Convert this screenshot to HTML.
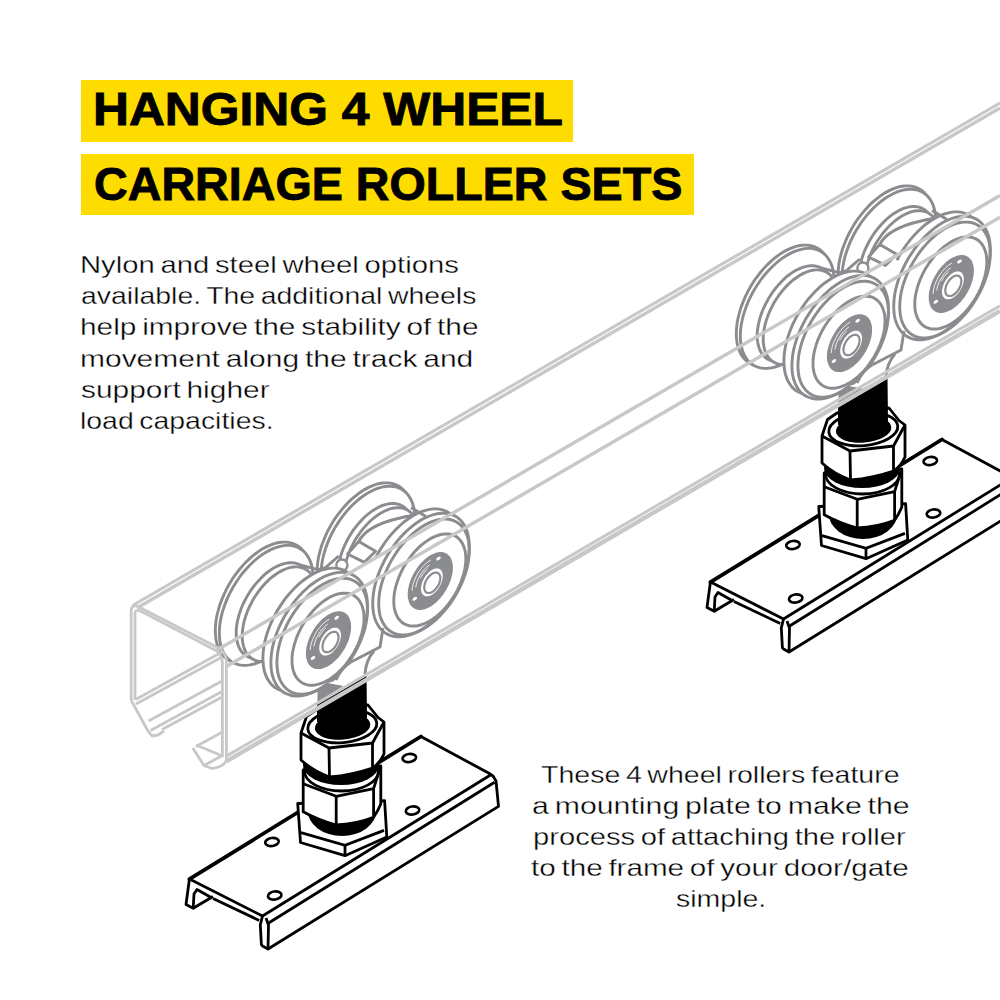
<!DOCTYPE html>
<html><head><meta charset="utf-8">
<style>
html,body{margin:0;padding:0;background:#fff;}
body{width:1000px;height:1000px;position:relative;overflow:hidden;font-family:"Liberation Sans",sans-serif;}
.box{position:absolute;background:#FFDC00;}
.h{position:absolute;font-weight:bold;font-size:46px;line-height:46px;color:#000;-webkit-text-stroke:0.9px #000;white-space:nowrap;transform-origin:0 0;}
.t{position:absolute;font-size:24px;line-height:24px;color:#000;word-spacing:-2px;-webkit-text-stroke:0.35px #fff;white-space:nowrap;transform-origin:0 0;}
.c{position:absolute;font-size:24px;line-height:24px;color:#000;-webkit-text-stroke:0.35px #fff;white-space:nowrap;text-align:center;width:400px;transform-origin:200px 0;}
svg{position:absolute;left:0;top:0;}
</style></head><body>
<svg width="1000" height="1000" viewBox="0 0 1000 1000">
<defs><g id="asm"><polygon points="310.1,574.8 309.9,579.6 309.4,584.6 308.5,589.7 307.2,594.9 305.7,600.2 303.7,605.5 301.5,610.8 299,616 296.2,621.1 293.2,626.1 289.9,630.9 286.4,635.4 282.7,639.8 278.9,643.8 275,647.5 270.9,650.9 266.8,654 262.7,656.6 258.6,658.8 254.5,660.6 250.4,662 246.5,662.9 242.7,663.3 239,663.3 235.5,662.8 232.2,661.9 229.2,660.5 226.4,658.7 223.9,656.4 221.7,653.8 219.7,650.7 218.2,647.3 216.9,643.6 216,639.5 215.5,635.2 215.3,630.6 215.5,625.8 216,620.8 216.9,615.7 218.2,610.5 219.7,605.2 221.7,599.9 223.9,594.6 226.4,589.4 229.2,584.3 232.2,579.3 235.5,574.5 239,570 242.7,565.6 246.5,561.6 250.4,557.9 254.5,554.5 258.6,551.4 262.7,548.8 266.8,546.6 270.9,544.8 275,543.4 278.9,542.5 282.7,542.1 286.4,542.1 289.9,542.6 293.2,543.5 296.2,544.9 299,546.7 301.5,549 303.7,551.6 305.7,554.7 307.2,558.1 308.5,561.8 309.4,565.9 309.9,570.2" fill="#fff" stroke="#8b8c8f" stroke-width="2.9" /><polygon points="313.1,577.8 312.9,582.6 312.4,587.5 311.5,592.6 310.3,597.7 308.7,602.9 306.8,608.2 304.6,613.4 302.1,618.6 299.4,623.6 296.3,628.5 293.1,633.3 289.6,637.8 286,642.1 282.2,646.1 278.3,649.8 274.3,653.1 270.3,656.1 266.2,658.7 262.1,660.9 258.1,662.7 254.1,664 250.2,664.9 246.4,665.4 242.8,665.4 239.3,664.9 236.1,664 233,662.6 230.3,660.8 227.8,658.6 225.6,655.9 223.7,652.9 222.1,649.6 220.9,645.8 220,641.8 219.5,637.5 219.3,633 219.5,628.2 220,623.3 220.9,618.2 222.1,613.1 223.7,607.9 225.6,602.6 227.8,597.4 230.3,592.2 233,587.2 236.1,582.3 239.3,577.5 242.7,573 246.4,568.7 250.2,564.7 254.1,561 258.1,557.7 262.1,554.7 266.2,552.1 270.3,549.9 274.3,548.1 278.3,546.8 282.2,545.9 286,545.4 289.6,545.4 293.1,545.9 296.3,546.8 299.4,548.2 302.1,550 304.6,552.2 306.8,554.9 308.7,557.9 310.3,561.2 311.5,565 312.4,569 312.9,573.3" fill="#fff" stroke="#8b8c8f" stroke-width="2.9" /><polygon points="311.2,588.7 311.1,592.5 310.6,596.4 309.9,600.4 308.9,604.6 307.7,608.7 306.2,612.9 304.4,617.1 302.4,621.2 300.2,625.3 297.8,629.2 295.2,633 292.4,636.6 289.5,640 286.5,643.2 283.4,646.2 280.2,648.9 277,651.3 273.7,653.3 270.4,655.1 267.2,656.5 264,657.6 260.9,658.3 257.9,658.7 254.9,658.7 252.2,658.3 249.6,657.5 247.2,656.4 245,655 243,653.2 241.2,651.1 239.7,648.7 238.5,646 237.5,643 236.8,639.8 236.3,636.4 236.2,632.8 236.3,628.9 236.8,625 237.5,621 238.5,616.8 239.7,612.7 241.2,608.5 243,604.3 245,600.2 247.2,596.1 249.6,592.2 252.2,588.4 254.9,584.8 257.9,581.4 260.9,578.2 264,575.2 267.2,572.5 270.4,570.1 273.7,568.1 277,566.3 280.2,564.9 283.4,563.8 286.5,563.1 289.5,562.7 292.4,562.7 295.2,563.1 297.8,563.9 300.2,565 302.4,566.4 304.4,568.2 306.2,570.3 307.7,572.7 308.9,575.4 309.9,578.4 310.6,581.6 311.1,585" fill="#fff" stroke="#8b8c8f" stroke-width="2.9" /><polygon points="316.2,592.4 316.1,596.2 315.6,600.1 314.9,604.1 314,608.1 312.7,612.3 311.2,616.4 309.5,620.5 307.5,624.6 305.4,628.6 303,632.4 300.4,636.2 297.7,639.8 294.8,643.1 291.9,646.3 288.8,649.2 285.6,651.9 282.4,654.2 279.2,656.3 276,658 272.8,659.4 269.6,660.5 266.5,661.2 263.6,661.5 260.7,661.5 258,661.1 255.4,660.4 253,659.3 250.9,657.9 248.9,656.2 247.2,654.1 245.7,651.7 244.4,649 243.5,646.1 242.8,642.9 242.3,639.5 242.2,636 242.3,632.2 242.8,628.3 243.5,624.3 244.4,620.3 245.7,616.1 247.2,612 248.9,607.9 250.9,603.8 253,599.8 255.4,596 258,592.2 260.7,588.6 263.6,585.3 266.5,582.1 269.6,579.2 272.8,576.5 276,574.2 279.2,572.1 282.4,570.4 285.6,569 288.8,567.9 291.9,567.2 294.8,566.9 297.7,566.9 300.4,567.3 303,568 305.4,569.1 307.5,570.5 309.5,572.2 311.2,574.3 312.7,576.7 314,579.4 314.9,582.3 315.6,585.5 316.1,588.9" fill="#fff" stroke="#8b8c8f" stroke-width="2.9" /><polygon points="411.9,515.6 411.7,520.4 411.2,525.4 410.3,530.5 409,535.7 407.5,541 405.5,546.3 403.3,551.6 400.8,556.8 398,561.9 395,566.9 391.7,571.7 388.2,576.2 384.5,580.6 380.7,584.6 376.8,588.3 372.7,591.7 368.6,594.8 364.5,597.4 360.4,599.6 356.3,601.4 352.2,602.8 348.3,603.7 344.5,604.1 340.8,604.1 337.3,603.6 334,602.7 331,601.3 328.2,599.5 325.7,597.2 323.5,594.6 321.5,591.5 320,588.1 318.7,584.4 317.8,580.3 317.3,576 317.1,571.4 317.3,566.6 317.8,561.6 318.7,556.5 320,551.3 321.5,546 323.5,540.7 325.7,535.4 328.2,530.2 331,525.1 334,520.1 337.3,515.3 340.8,510.8 344.5,506.4 348.3,502.4 352.2,498.7 356.3,495.3 360.4,492.2 364.5,489.6 368.6,487.4 372.7,485.6 376.8,484.2 380.7,483.3 384.5,482.9 388.2,482.9 391.7,483.4 395,484.3 398,485.7 400.8,487.5 403.3,489.8 405.5,492.4 407.5,495.5 409,498.9 410.3,502.6 411.2,506.7 411.7,511" fill="#fff" stroke="#8b8c8f" stroke-width="2.9" /><polygon points="414.9,518.6 414.7,523.4 414.2,528.3 413.3,533.4 412.1,538.5 410.5,543.7 408.6,549 406.4,554.2 403.9,559.4 401.2,564.4 398.1,569.3 394.9,574.1 391.4,578.6 387.8,582.9 384,586.9 380.1,590.6 376.1,593.9 372.1,596.9 368,599.5 363.9,601.7 359.9,603.5 355.9,604.8 352,605.7 348.2,606.2 344.6,606.2 341.1,605.7 337.9,604.8 334.8,603.4 332.1,601.6 329.6,599.4 327.4,596.7 325.5,593.7 323.9,590.4 322.7,586.6 321.8,582.6 321.3,578.3 321.1,573.8 321.3,569 321.8,564.1 322.7,559 323.9,553.9 325.5,548.7 327.4,543.4 329.6,538.2 332.1,533 334.8,528 337.9,523.1 341.1,518.3 344.5,513.8 348.2,509.5 352,505.5 355.9,501.8 359.9,498.5 363.9,495.5 368,492.9 372.1,490.7 376.1,488.9 380.1,487.6 384,486.7 387.8,486.2 391.4,486.2 394.9,486.7 398.1,487.6 401.2,489 403.9,490.8 406.4,493 408.6,495.7 410.5,498.7 412.1,502 413.3,505.8 414.2,509.8 414.7,514.1" fill="#fff" stroke="#8b8c8f" stroke-width="2.9" /><polygon points="413,529.5 412.9,533.3 412.4,537.2 411.7,541.2 410.7,545.4 409.5,549.5 408,553.7 406.2,557.9 404.2,562 402,566.1 399.6,570 397,573.8 394.2,577.4 391.3,580.8 388.3,584 385.2,587 382,589.7 378.8,592.1 375.5,594.1 372.2,595.9 369,597.3 365.8,598.4 362.7,599.1 359.7,599.5 356.8,599.5 354,599.1 351.4,598.3 349,597.2 346.8,595.8 344.8,594 343,591.9 341.5,589.5 340.3,586.8 339.3,583.8 338.6,580.6 338.1,577.2 338,573.5 338.1,569.7 338.6,565.8 339.3,561.8 340.3,557.6 341.5,553.5 343,549.3 344.8,545.1 346.8,541 349,536.9 351.4,533 354,529.2 356.8,525.6 359.7,522.2 362.7,519 365.8,516 369,513.3 372.2,510.9 375.5,508.9 378.8,507.1 382,505.7 385.2,504.6 388.3,503.9 391.3,503.5 394.2,503.5 397,503.9 399.6,504.7 402,505.8 404.2,507.2 406.2,509 408,511.1 409.5,513.5 410.7,516.2 411.7,519.2 412.4,522.4 412.9,525.8" fill="#fff" stroke="#8b8c8f" stroke-width="2.9" /><polygon points="418,533.2 417.9,537 417.4,540.9 416.7,544.9 415.8,548.9 414.5,553.1 413,557.2 411.3,561.3 409.3,565.4 407.2,569.4 404.8,573.2 402.2,577 399.5,580.6 396.6,583.9 393.7,587.1 390.6,590 387.4,592.7 384.2,595 381,597.1 377.8,598.8 374.6,600.2 371.4,601.3 368.3,602 365.4,602.3 362.5,602.3 359.8,601.9 357.2,601.2 354.8,600.1 352.7,598.7 350.7,597 349,594.9 347.5,592.5 346.2,589.8 345.3,586.9 344.6,583.7 344.1,580.3 344,576.8 344.1,573 344.6,569.1 345.3,565.1 346.2,561.1 347.5,556.9 349,552.8 350.7,548.7 352.7,544.6 354.8,540.6 357.2,536.8 359.8,533 362.5,529.4 365.4,526.1 368.3,522.9 371.4,520 374.6,517.3 377.8,515 381,512.9 384.2,511.2 387.4,509.8 390.6,508.7 393.7,508 396.6,507.7 399.5,507.7 402.2,508.1 404.8,508.8 407.2,509.9 409.3,511.3 411.3,513 413,515.1 414.5,517.5 415.8,520.2 416.7,523.1 417.4,526.3 417.9,529.7" fill="#fff" stroke="#8b8c8f" stroke-width="2.9" /><path d="M358.8,541.4 C364,531 378,523 400,518 S420,515.5 432,516" fill="none" stroke="#8b8c8f" stroke-width="2.9"/><polygon points="358.8,541.4 375.6,551.2 364.4,562.4 347.6,554" fill="#fff" stroke="#8b8c8f" stroke-width="2.9" stroke-linejoin="round"/><polyline points="338.7,556 325.2,567.8 318,569.6 300,565" fill="none" stroke="#8b8c8f" stroke-width="2.9" stroke-linejoin="round"/><polyline points="318,569.6 327,575" fill="none" stroke="#8b8c8f" stroke-width="2.9" /><polyline points="325.2,567.8 335,574" fill="none" stroke="#8b8c8f" stroke-width="2.9" /><circle cx="341.9" cy="565.1" r="5.6" fill="#fff" stroke="#8b8c8f" stroke-width="2.3"/><polygon points="461.3,542.3 461.1,547.2 460.6,552.3 459.7,557.5 458.4,562.8 456.8,568.2 454.8,573.6 452.6,578.9 450,584.2 447.2,589.5 444,594.5 440.7,599.4 437.1,604.1 433.4,608.5 429.5,612.6 425.5,616.4 421.4,619.9 417.2,622.9 413,625.6 408.8,627.9 404.6,629.7 400.5,631.1 396.5,632 392.6,632.5 388.9,632.5 385.3,632 382,631 378.8,629.6 376,627.8 373.4,625.5 371.2,622.8 369.2,619.6 367.6,616.2 366.3,612.3 365.4,608.2 364.9,603.8 364.7,599.1 364.9,594.2 365.4,589.1 366.3,583.9 367.6,578.6 369.2,573.2 371.2,567.8 373.4,562.5 376,557.2 378.8,551.9 382,546.9 385.3,542 388.8,537.3 392.6,532.9 396.5,528.8 400.5,525 404.6,521.5 408.8,518.5 413,515.8 417.2,513.5 421.4,511.7 425.5,510.3 429.5,509.4 433.4,508.9 437.1,508.9 440.7,509.4 444,510.4 447.2,511.8 450,513.6 452.6,515.9 454.8,518.6 456.8,521.8 458.4,525.2 459.7,529.1 460.6,533.2 461.1,537.6" fill="#fff" stroke="none" stroke-width="0" /><polyline points="376,557.2 378.8,551.9 382,546.9 385.3,542 388.8,537.3 392.6,532.9 396.5,528.8 400.5,525 404.6,521.5 408.8,518.5 413,515.8 417.2,513.5 421.4,511.7 425.5,510.3 429.5,509.4 433.4,508.9 437.1,508.9 440.7,509.4 444,510.4 447.2,511.8 450,513.6 452.6,515.9 454.8,518.6 456.8,521.8 458.4,525.2 459.7,529.1 460.6,533.2 461.1,537.6 461.3,542.3 461.1,547.2 460.6,552.3 459.7,557.5 458.4,562.8 456.8,568.2 454.8,573.6 452.6,578.9 450,584.2 447.2,589.5 444,594.5 440.7,599.4 437.1,604.1 433.4,608.5" fill="none" stroke="#8b8c8f" stroke-width="2.9" /><polygon points="469.3,546.6 469.1,551.5 468.6,556.6 467.7,561.8 466.4,567.1 464.8,572.5 462.8,577.9 460.6,583.2 458,588.5 455.2,593.8 452,598.8 448.7,603.7 445.1,608.4 441.4,612.8 437.5,616.9 433.5,620.7 429.4,624.2 425.2,627.2 421,629.9 416.8,632.2 412.6,634 408.5,635.4 404.5,636.3 400.6,636.8 396.9,636.8 393.3,636.3 390,635.3 386.8,633.9 384,632.1 381.4,629.8 379.2,627.1 377.2,623.9 375.6,620.5 374.3,616.6 373.4,612.5 372.9,608.1 372.7,603.4 372.9,598.5 373.4,593.4 374.3,588.2 375.6,582.9 377.2,577.5 379.2,572.1 381.4,566.8 384,561.5 386.8,556.2 390,551.2 393.3,546.3 396.8,541.6 400.6,537.2 404.5,533.1 408.5,529.3 412.6,525.8 416.8,522.8 421,520.1 425.2,517.8 429.4,516 433.5,514.6 437.5,513.7 441.4,513.2 445.1,513.2 448.7,513.7 452,514.7 455.2,516.1 458,517.9 460.6,520.2 462.8,522.9 464.8,526.1 466.4,529.5 467.7,533.4 468.6,537.5 469.1,541.9" fill="#fff" stroke="#8b8c8f" stroke-width="2.9" /><polygon points="469.3,550.4 469.1,555 468.6,559.7 467.8,564.6 466.6,569.6 465.1,574.6 463.2,579.7 461.1,584.7 458.7,589.7 456,594.6 453.1,599.3 450,603.9 446.6,608.3 443.1,612.4 439.5,616.3 435.7,619.9 431.9,623.1 427.9,626 424,628.5 420.1,630.6 416.1,632.3 412.3,633.6 408.5,634.5 404.9,634.9 401.4,634.9 398,634.5 394.9,633.6 392,632.3 389.3,630.5 386.9,628.4 384.8,625.8 382.9,622.9 381.4,619.6 380.2,616.1 379.4,612.2 378.9,608 378.7,603.6 378.9,599 379.4,594.3 380.2,589.4 381.4,584.4 382.9,579.4 384.8,574.3 386.9,569.3 389.3,564.3 392,559.4 394.9,554.7 398,550.1 401.3,545.7 404.9,541.6 408.5,537.7 412.3,534.1 416.1,530.9 420.1,528 424,525.5 427.9,523.4 431.9,521.7 435.7,520.4 439.5,519.5 443.1,519.1 446.6,519.1 450,519.5 453.1,520.4 456,521.7 458.7,523.5 461.1,525.6 463.2,528.2 465.1,531.1 466.6,534.4 467.8,537.9 468.6,541.8 469.1,546" fill="none" stroke="#8b8c8f" stroke-width="2.9" /><polygon points="465.8,558.8 465.7,562.5 465.3,566.3 464.6,570.1 463.6,574.1 462.4,578.1 461,582.1 459.3,586.1 457.4,590.1 455.3,594 452.9,597.7 450.4,601.4 447.8,604.9 445,608.2 442.1,611.2 439.1,614.1 436.1,616.6 432.9,618.9 429.8,620.9 426.7,622.6 423.5,624 420.5,625 417.5,625.7 414.6,626 411.8,626 409.2,625.7 406.7,625 404.3,623.9 402.2,622.5 400.3,620.8 398.6,618.8 397.2,616.5 396,613.9 395,611 394.3,608 393.9,604.7 393.8,601.2 393.9,597.5 394.3,593.7 395,589.9 396,585.9 397.2,581.9 398.6,577.9 400.3,573.9 402.2,569.9 404.3,566 406.7,562.3 409.2,558.6 411.8,555.1 414.6,551.8 417.5,548.8 420.5,545.9 423.5,543.4 426.7,541.1 429.8,539.1 432.9,537.4 436.1,536 439.1,535 442.1,534.3 445,534 447.8,534 450.4,534.3 452.9,535 455.3,536.1 457.4,537.5 459.3,539.2 461,541.2 462.4,543.5 463.6,546.1 464.6,549 465.3,552 465.7,555.3" fill="#fff" stroke="#8b8c8f" stroke-width="2.9" /><polygon points="452.9,567.7 452.8,570 452.6,572.4 452.1,574.8 451.5,577.3 450.8,579.8 449.9,582.3 448.8,584.9 447.6,587.3 446.3,589.8 444.8,592.1 443.3,594.4 441.6,596.6 439.9,598.7 438,600.6 436.1,602.4 434.2,604 432.3,605.4 430.3,606.7 428.3,607.8 426.4,608.6 424.5,609.3 422.6,609.7 420.7,609.9 419,609.9 417.3,609.7 415.8,609.2 414.3,608.6 413,607.7 411.8,606.6 410.7,605.4 409.8,603.9 409.1,602.3 408.5,600.5 408,598.5 407.8,596.5 407.7,594.3 407.8,592 408,589.6 408.5,587.2 409.1,584.7 409.8,582.2 410.7,579.7 411.8,577.1 413,574.7 414.3,572.2 415.8,569.9 417.3,567.6 419,565.4 420.7,563.3 422.6,561.4 424.5,559.6 426.4,558 428.3,556.6 430.3,555.3 432.3,554.2 434.2,553.4 436.1,552.7 438,552.3 439.9,552.1 441.6,552.1 443.3,552.3 444.8,552.8 446.3,553.4 447.6,554.3 448.8,555.4 449.9,556.6 450.8,558.1 451.5,559.7 452.1,561.5 452.6,563.5 452.8,565.5" fill="#8b8c8f" stroke="none" stroke-width="0" /><polygon points="442.8,576 442.8,577.1 442.6,578.2 442.4,579.4 442.1,580.6 441.8,581.8 441.3,583 440.8,584.3 440.2,585.5 439.6,586.6 438.9,587.8 438.2,588.9 437.3,589.9 436.5,590.9 435.6,591.9 434.7,592.7 433.8,593.5 432.8,594.2 431.9,594.8 431,595.3 430,595.7 429.1,596 428.2,596.2 427.3,596.3 426.4,596.3 425.6,596.2 424.9,596 424.2,595.7 423.6,595.3 423,594.8 422.5,594.1 422,593.4 421.7,592.7 421.4,591.8 421.2,590.9 421,589.9 421,588.8 421,587.7 421.2,586.6 421.4,585.4 421.7,584.2 422,583 422.5,581.8 423,580.5 423.6,579.3 424.2,578.2 424.9,577 425.6,575.9 426.4,574.9 427.3,573.9 428.2,572.9 429.1,572.1 430,571.3 431,570.6 431.9,570 432.8,569.5 433.8,569.1 434.7,568.8 435.6,568.6 436.5,568.5 437.3,568.5 438.2,568.6 438.9,568.8 439.6,569.1 440.2,569.5 440.8,570 441.3,570.7 441.8,571.4 442.1,572.1 442.4,573 442.6,573.9 442.8,574.9" fill="#fff" stroke="none" stroke-width="0" /><polygon points="440.3,578.1 440.3,578.9 440.2,579.7 440,580.6 439.8,581.5 439.6,582.4 439.2,583.3 438.9,584.2 438.4,585 438,585.9 437.4,586.7 436.9,587.6 436.3,588.3 435.7,589.1 435,589.7 434.4,590.4 433.7,590.9 433,591.5 432.3,591.9 431.6,592.3 430.9,592.6 430.2,592.8 429.6,593 428.9,593 428.3,593 427.7,592.9 427.2,592.8 426.6,592.6 426.2,592.3 425.7,591.9 425.4,591.4 425,590.9 424.8,590.3 424.6,589.7 424.4,589 424.3,588.3 424.3,587.5 424.3,586.7 424.4,585.9 424.6,585 424.8,584.1 425,583.2 425.4,582.3 425.7,581.4 426.2,580.6 426.6,579.7 427.2,578.9 427.7,578 428.3,577.3 428.9,576.5 429.6,575.9 430.2,575.2 430.9,574.7 431.6,574.1 432.3,573.7 433,573.3 433.7,573 434.4,572.8 435,572.6 435.7,572.6 436.3,572.6 436.9,572.7 437.4,572.8 438,573 438.4,573.3 438.9,573.7 439.2,574.2 439.6,574.7 439.8,575.3 440,575.9 440.2,576.6 440.3,577.3" fill="none" stroke="#8b8c8f" stroke-width="2.2" /><polyline points="412.1,590.4 412.3,588.4 412.6,586.4 413.1,584.3 413.7,582.3 414.5,580.2 415.4,578.1 416.4,576.1 417.4,574.1 418.6,572.1 419.9,570.2 421.3,568.5 422.7,566.8 424.2,565.2 425.8,563.7 427.4,562.4 429,561.2 430.6,560.2" fill="none" stroke="#fff" stroke-width="0.9" stroke-linecap="round"/><polyline points="415.8,587 416.1,585.4 416.5,583.8 417,582.1 417.6,580.4 418.3,578.7 419.1,577.1 420,575.5 421,573.9 422,572.4 423.1,570.9 424.3,569.6 425.5,568.3 426.7,567.1 428,566 429.3,565.1" fill="none" stroke="#fff" stroke-width="0.9" stroke-linecap="round"/><polyline points="420.7,577.7 421.5,576.3 422.3,574.9 423.2,573.6 424.2,572.4 425.1,571.2 426.2,570.1 427.3,569.1" fill="none" stroke="#fff" stroke-width="0.9" stroke-linecap="round"/><ellipse cx="438.5" cy="558.5" rx="2.6" ry="1.5" fill="#fff" transform="rotate(-35 438.5 558.5)"/><ellipse cx="414.8" cy="598.8" rx="2.6" ry="1.5" fill="#fff" transform="rotate(-35 414.8 598.8)"/><polygon points="359.5,601.5 359.3,606.4 358.8,611.5 357.9,616.7 356.6,622 355,627.4 353,632.8 350.8,638.1 348.2,643.4 345.4,648.7 342.2,653.7 338.9,658.6 335.4,663.3 331.6,667.7 327.7,671.8 323.7,675.6 319.6,679.1 315.4,682.1 311.2,684.8 307,687.1 302.8,688.9 298.7,690.3 294.7,691.2 290.8,691.7 287.1,691.7 283.5,691.2 280.2,690.2 277,688.8 274.2,687 271.6,684.7 269.4,682 267.4,678.8 265.8,675.4 264.5,671.5 263.6,667.4 263.1,663 262.9,658.3 263.1,653.4 263.6,648.3 264.5,643.1 265.8,637.8 267.4,632.4 269.4,627 271.6,621.7 274.2,616.4 277,611.1 280.2,606.1 283.5,601.2 287,596.5 290.8,592.1 294.7,588 298.7,584.2 302.8,580.7 307,577.7 311.2,575 315.4,572.7 319.6,570.9 323.7,569.5 327.7,568.6 331.6,568.1 335.3,568.1 338.9,568.6 342.2,569.6 345.4,571 348.2,572.8 350.8,575.1 353,577.8 355,581 356.6,584.4 357.9,588.3 358.8,592.4 359.3,596.8" fill="#fff" stroke="#8b8c8f" stroke-width="2.9" /><polygon points="367.5,605.8 367.3,610.7 366.8,615.8 365.9,621 364.6,626.3 363,631.7 361,637.1 358.8,642.4 356.2,647.7 353.4,653 350.2,658 346.9,662.9 343.4,667.6 339.6,672 335.7,676.1 331.7,679.9 327.6,683.4 323.4,686.4 319.2,689.1 315,691.4 310.8,693.2 306.7,694.6 302.7,695.5 298.8,696 295.1,696 291.5,695.5 288.2,694.5 285,693.1 282.2,691.3 279.6,689 277.4,686.3 275.4,683.1 273.8,679.7 272.5,675.8 271.6,671.7 271.1,667.3 270.9,662.6 271.1,657.7 271.6,652.6 272.5,647.4 273.8,642.1 275.4,636.7 277.4,631.3 279.6,626 282.2,620.7 285,615.4 288.2,610.4 291.5,605.5 295,600.8 298.8,596.4 302.7,592.3 306.7,588.5 310.8,585 315,582 319.2,579.3 323.4,577 327.6,575.2 331.7,573.8 335.7,572.9 339.6,572.4 343.3,572.4 346.9,572.9 350.2,573.9 353.4,575.3 356.2,577.1 358.8,579.4 361,582.1 363,585.3 364.6,588.7 365.9,592.6 366.8,596.7 367.3,601.1" fill="#fff" stroke="#8b8c8f" stroke-width="2.9" /><polygon points="367.5,609.6 367.3,614.2 366.8,618.9 366,623.8 364.8,628.8 363.3,633.8 361.4,638.9 359.3,643.9 356.9,648.9 354.2,653.8 351.3,658.5 348.2,663.1 344.8,667.5 341.3,671.6 337.7,675.5 333.9,679.1 330.1,682.3 326.1,685.2 322.2,687.7 318.3,689.8 314.3,691.5 310.5,692.8 306.7,693.7 303.1,694.1 299.6,694.1 296.2,693.7 293.1,692.8 290.2,691.5 287.5,689.7 285.1,687.6 283,685 281.1,682.1 279.6,678.8 278.4,675.3 277.6,671.4 277.1,667.2 276.9,662.8 277.1,658.2 277.6,653.5 278.4,648.6 279.6,643.6 281.1,638.6 283,633.5 285.1,628.5 287.5,623.5 290.2,618.6 293.1,613.9 296.2,609.3 299.5,604.9 303.1,600.8 306.7,596.9 310.5,593.3 314.3,590.1 318.3,587.2 322.2,584.7 326.1,582.6 330.1,580.9 333.9,579.6 337.7,578.7 341.3,578.3 344.8,578.3 348.2,578.7 351.3,579.6 354.2,580.9 356.9,582.7 359.3,584.8 361.4,587.4 363.3,590.3 364.8,593.6 366,597.1 366.8,601 367.3,605.2" fill="none" stroke="#8b8c8f" stroke-width="2.9" /><polygon points="364,618 363.9,621.7 363.5,625.5 362.8,629.3 361.8,633.3 360.6,637.3 359.2,641.3 357.5,645.3 355.6,649.3 353.5,653.2 351.1,656.9 348.6,660.6 346,664.1 343.2,667.4 340.3,670.4 337.3,673.3 334.3,675.8 331.1,678.1 328,680.1 324.9,681.8 321.7,683.2 318.7,684.2 315.7,684.9 312.8,685.2 310,685.2 307.4,684.9 304.9,684.2 302.5,683.1 300.4,681.7 298.5,680 296.8,678 295.4,675.7 294.2,673.1 293.2,670.2 292.5,667.2 292.1,663.9 292,660.4 292.1,656.7 292.5,652.9 293.2,649.1 294.2,645.1 295.4,641.1 296.8,637.1 298.5,633.1 300.4,629.1 302.5,625.2 304.9,621.5 307.4,617.8 310,614.3 312.8,611 315.7,608 318.7,605.1 321.7,602.6 324.9,600.3 328,598.3 331.1,596.6 334.3,595.2 337.3,594.2 340.3,593.5 343.2,593.2 346,593.2 348.6,593.5 351.1,594.2 353.5,595.3 355.6,596.7 357.5,598.4 359.2,600.4 360.6,602.7 361.8,605.3 362.8,608.2 363.5,611.2 363.9,614.5" fill="#fff" stroke="#8b8c8f" stroke-width="2.9" /><polygon points="351.1,626.9 351,629.2 350.8,631.6 350.3,634 349.7,636.5 349,639 348.1,641.5 347,644.1 345.8,646.5 344.5,649 343,651.3 341.5,653.6 339.8,655.8 338.1,657.9 336.2,659.8 334.3,661.6 332.4,663.2 330.5,664.6 328.5,665.9 326.5,667 324.6,667.8 322.7,668.5 320.8,668.9 318.9,669.1 317.2,669.1 315.5,668.9 314,668.4 312.5,667.8 311.2,666.9 310,665.8 308.9,664.6 308,663.1 307.3,661.5 306.7,659.7 306.2,657.7 306,655.7 305.9,653.5 306,651.2 306.2,648.8 306.7,646.4 307.3,643.9 308,641.4 308.9,638.9 310,636.3 311.2,633.9 312.5,631.4 314,629.1 315.5,626.8 317.2,624.6 318.9,622.5 320.8,620.6 322.7,618.8 324.6,617.2 326.5,615.8 328.5,614.5 330.5,613.4 332.4,612.6 334.3,611.9 336.2,611.5 338.1,611.3 339.8,611.3 341.5,611.5 343,612 344.5,612.6 345.8,613.5 347,614.6 348.1,615.8 349,617.3 349.7,618.9 350.3,620.7 350.8,622.7 351,624.7" fill="#8b8c8f" stroke="none" stroke-width="0" /><polygon points="341,635.2 341,636.3 340.8,637.4 340.6,638.6 340.3,639.8 340,641 339.5,642.2 339,643.5 338.4,644.7 337.8,645.8 337.1,647 336.4,648.1 335.5,649.1 334.7,650.1 333.8,651.1 332.9,651.9 332,652.7 331,653.4 330.1,654 329.2,654.5 328.2,654.9 327.3,655.2 326.4,655.4 325.5,655.5 324.6,655.5 323.8,655.4 323.1,655.2 322.4,654.9 321.8,654.5 321.2,654 320.7,653.3 320.2,652.6 319.9,651.9 319.6,651 319.4,650.1 319.2,649.1 319.2,648 319.2,646.9 319.4,645.8 319.6,644.6 319.9,643.4 320.2,642.2 320.7,641 321.2,639.7 321.8,638.5 322.4,637.4 323.1,636.2 323.8,635.1 324.6,634.1 325.5,633.1 326.4,632.1 327.3,631.3 328.2,630.5 329.2,629.8 330.1,629.2 331,628.7 332,628.3 332.9,628 333.8,627.8 334.7,627.7 335.5,627.7 336.4,627.8 337.1,628 337.8,628.3 338.4,628.7 339,629.2 339.5,629.9 340,630.6 340.3,631.3 340.6,632.2 340.8,633.1 341,634.1" fill="#fff" stroke="none" stroke-width="0" /><polygon points="338.5,637.3 338.5,638.1 338.4,638.9 338.2,639.8 338,640.7 337.8,641.6 337.4,642.5 337.1,643.4 336.6,644.2 336.2,645.1 335.6,645.9 335.1,646.8 334.5,647.5 333.9,648.3 333.2,648.9 332.6,649.6 331.9,650.1 331.2,650.7 330.5,651.1 329.8,651.5 329.1,651.8 328.4,652 327.8,652.2 327.1,652.2 326.5,652.2 325.9,652.1 325.4,652 324.8,651.8 324.4,651.5 323.9,651.1 323.6,650.6 323.2,650.1 323,649.5 322.8,648.9 322.6,648.2 322.5,647.5 322.5,646.7 322.5,645.9 322.6,645.1 322.8,644.2 323,643.3 323.2,642.4 323.6,641.5 323.9,640.6 324.4,639.8 324.8,638.9 325.4,638.1 325.9,637.2 326.5,636.5 327.1,635.7 327.8,635.1 328.4,634.4 329.1,633.9 329.8,633.3 330.5,632.9 331.2,632.5 331.9,632.2 332.6,632 333.2,631.8 333.9,631.8 334.5,631.8 335.1,631.9 335.6,632 336.2,632.2 336.6,632.5 337.1,632.9 337.4,633.4 337.8,633.9 338,634.5 338.2,635.1 338.4,635.8 338.5,636.5" fill="none" stroke="#8b8c8f" stroke-width="2.2" /><polyline points="310.3,649.6 310.5,647.6 310.8,645.6 311.3,643.5 311.9,641.5 312.7,639.4 313.6,637.3 314.6,635.3 315.6,633.3 316.8,631.3 318.1,629.4 319.5,627.7 320.9,626 322.4,624.4 324,622.9 325.6,621.6 327.2,620.4 328.8,619.4" fill="none" stroke="#fff" stroke-width="0.9" stroke-linecap="round"/><polyline points="314,646.2 314.3,644.6 314.7,643 315.2,641.3 315.8,639.6 316.5,637.9 317.3,636.3 318.2,634.7 319.2,633.1 320.2,631.6 321.3,630.1 322.5,628.8 323.7,627.5 324.9,626.3 326.2,625.2 327.5,624.3" fill="none" stroke="#fff" stroke-width="0.9" stroke-linecap="round"/><polyline points="318.9,636.9 319.7,635.5 320.5,634.1 321.4,632.8 322.4,631.6 323.3,630.4 324.4,629.3 325.5,628.3" fill="none" stroke="#fff" stroke-width="0.9" stroke-linecap="round"/><ellipse cx="336.7" cy="617.7" rx="2.6" ry="1.5" fill="#fff" transform="rotate(-35 336.7 617.7)"/><ellipse cx="313" cy="658" rx="2.6" ry="1.5" fill="#fff" transform="rotate(-35 313 658)"/><polyline points="411,507.5 426,516.5" fill="none" stroke="#8b8c8f" stroke-width="2.9" /><polygon points="317.5,691 328,683 344,685.5 317.5,703" fill="#8b8c8f" stroke="none" stroke-width="0" /><polygon points="383,628 380,647 351,662 343,668 335,681 328,683 344,686 365,674 368,660 374,652 380,647" fill="#fff" stroke="none" stroke-width="0" /><polyline points="383,628 380,647 351,662" fill="none" stroke="#8b8c8f" stroke-width="2.9" stroke-linejoin="round"/><path d="M374,651 Q366,660 365,674" fill="none" stroke="#8b8c8f" stroke-width="2.9"/><path d="M351,662 Q341,668 336,680" fill="none" stroke="#8b8c8f" stroke-width="2.9"/><polygon points="420.9,736.5 491.3,774.5 496,782 498.5,806.4 268,949 261.4,944.6 260.3,924.8 262.5,916 189.4,879.2 186,904.5 193.2,908.3" fill="#fff" stroke="none" stroke-width="0" /><polyline points="189.4,879.2 420.9,736.5" fill="none" stroke="#000" stroke-width="3.8" stroke-linecap="round"/><polyline points="420.9,736.5 488.5,773 493,776 496,781 498.5,806.4 268,949 262.5,946 261.4,944.6 260.3,924.8 262.5,916 190.5,879.6" fill="none" stroke="#000" stroke-width="2.8" stroke-linejoin="round"/><polyline points="494.6,782.2 267,924" fill="none" stroke="#000" stroke-width="2.8" /><polyline points="490.5,775 262.5,916" fill="none" stroke="#000" stroke-width="2.8" /><polyline points="268,949 268.5,925 266,918" fill="none" stroke="#000" stroke-width="2.8" stroke-linejoin="round"/><polyline points="189.4,879.2 186,904.5 193.2,908.3 194,894 197,889.5 212,898" fill="none" stroke="#000" stroke-width="2.8" stroke-linejoin="round"/><polyline points="193.2,908.3 213,896.5" fill="none" stroke="#000" stroke-width="2.8" /><polyline points="213,898.5 259.2,920.4" fill="none" stroke="#000" stroke-width="2.8" /><ellipse cx="409.3" cy="758" rx="6.8" ry="4.0" fill="#fff" stroke="#000" stroke-width="2.6" transform="rotate(-8 409.3 758)"/><ellipse cx="412.5" cy="810.5" rx="6.8" ry="4.0" fill="#fff" stroke="#000" stroke-width="2.6" transform="rotate(-8 412.5 810.5)"/><ellipse cx="272" cy="842" rx="6.8" ry="4.0" fill="#fff" stroke="#000" stroke-width="2.6" transform="rotate(-8 272 842)"/><ellipse cx="274.7" cy="895.5" rx="6.8" ry="4.0" fill="#fff" stroke="#000" stroke-width="2.6" transform="rotate(-8 274.7 895.5)"/><polygon points="297.7,803.5 384.6,800.7 386.8,837 345,855.7 300.5,842.5" fill="#fff" stroke="#000" stroke-width="2.8" stroke-linejoin="round"/><polyline points="301,832.6 345,845.3 384,830.4" fill="none" stroke="#000" stroke-width="2.8" /><polyline points="345,845.3 345,855.7" fill="none" stroke="#000" stroke-width="2.8" /><ellipse cx="342" cy="810" rx="34.5" ry="26" fill="#000"/><path d="M303.2,770 L303.2,811.7 Q318,820 336.2,825 Q356,824 373.6,817.2 Q378,811 380.8,804 L380.8,766 Z" fill="#fff" stroke="#000" stroke-width="2.8" stroke-linejoin="round"/><ellipse cx="341.5" cy="771" rx="37" ry="20" fill="none" stroke="#000" stroke-width="2.8"/><polyline points="303.2,783.7 336.2,796.3 373.6,788.6 380.8,766" fill="none" stroke="#000" stroke-width="2.8" stroke-linejoin="round"/><polyline points="336.2,796.3 336.2,825" fill="none" stroke="#000" stroke-width="2.8" /><polyline points="373.6,788.6 373.6,817.2" fill="none" stroke="#000" stroke-width="2.8" /><ellipse cx="341" cy="765" rx="38" ry="20" fill="#000"/><path d="M301,733 L306.5,716.5 L316,710 L368,705 L378,717.5 L384,722 L384,754 Q380,763 372.5,768 Q352,775 329.5,777 Q313,771 301,760 Z" fill="#fff" stroke="#000" stroke-width="2.8" stroke-linejoin="round"/><polyline points="301,733 329,748 372.5,743 384,722" fill="none" stroke="#000" stroke-width="2.8" stroke-linejoin="round"/><polyline points="329,748 329.5,777" fill="none" stroke="#000" stroke-width="2.8" /><polyline points="372.5,743 372.5,768" fill="none" stroke="#000" stroke-width="2.8" /><ellipse cx="342.3" cy="726" rx="34.6" ry="16.6" fill="#fff" stroke="#000" stroke-width="2.8" transform="rotate(-5 342.3 726)"/><polygon points="317,704.5 366.5,675.5 367,718 317,722" fill="#000" stroke="none" stroke-width="0" /><ellipse cx="342.6" cy="726.3" rx="27.8" ry="13.3" fill="#000" transform="rotate(-5 342.6 726.3)"/></g></defs>
<use href="#asm"/>
<use href="#asm" transform="translate(521,-297)"/>
<polyline points="132.5,605.5 1000,103" fill="none" stroke="#c8c8c8" stroke-width="3.1" />
<polyline points="137,608 1000,108" fill="none" stroke="#c8c8c8" stroke-width="3.4" />
<polyline points="217,650 1000,195.5" fill="none" stroke="#c8c8c8" stroke-width="3.4" />
<polyline points="226.4,666.5 1000,217.2" fill="none" stroke="#c8c8c8" stroke-width="3.4" />
<polyline points="226.4,756.1 1000,305.8" fill="none" stroke="#c8c8c8" stroke-width="3" />
<polyline points="226.4,761.3 1000,310.9" fill="none" stroke="#c8c8c8" stroke-width="4.4" />
<path d="M131.2,700 L131.2,611 Q131.2,605.3 136.5,605.8 L218,647.8 Q225,651.5 226.4,660 L226.4,760 Q224,767 212,768.5 L204,765.5 L192.8,748" fill="none" stroke="#c8c8c8" stroke-width="2.8" stroke-linejoin="round"/>
<path d="M135,700 L135,613.5 Q135,609.6 139.5,610.6 L216,650.6 Q221.6,654 222.4,662 L222.4,756 L196,745" fill="none" stroke="#c8c8c8" stroke-width="2.8" stroke-linejoin="round"/>
<polyline points="131,700 148,731 152,736 158,735 164,731" fill="none" stroke="#c8c8c8" stroke-width="2.8" stroke-linejoin="round"/>
<polyline points="136,699.3 222,652" fill="none" stroke="#c8c8c8" stroke-width="2.8" />
<polyline points="136,704 222,657" fill="none" stroke="#c8c8c8" stroke-width="2.8" />
<polyline points="148.5,721 222,681" fill="none" stroke="#c8c8c8" stroke-width="2.8" />
<polyline points="150.5,730.6 222,691.5" fill="none" stroke="#c8c8c8" stroke-width="2.8" />
<polyline points="162,729.5 222,697" fill="none" stroke="#c8c8c8" stroke-width="2.8" />
<polyline points="196,746.4 222.4,732" fill="none" stroke="#c8c8c8" stroke-width="2.8" />
<polyline points="205,765 222.4,755.5" fill="none" stroke="#c8c8c8" stroke-width="2.8" />
</svg>
<div class="box" style="left:81px;top:80px;width:492.4px;height:61.5px"></div>
<div class="box" style="left:81px;top:154.2px;width:612.7px;height:61px"></div>
<div class="h" style="left:92.76px;top:86px;transform:scaleX(1.0816)">HANGING 4 WHEEL</div>
<div class="h" style="left:93.87px;top:160.5px;transform:scaleX(1.0141)">CARRIAGE ROLLER SETS</div>
<div class="t" style="left:80.36px;top:253px;transform:scaleX(1.2188)">Nylon and steel wheel options</div>
<div class="t" style="left:80.92px;top:284.2px;transform:scaleX(1.1846)">available. The additional wheels</div>
<div class="t" style="left:80.32px;top:315.4px;transform:scaleX(1.2421)">help improve the stability of the</div>
<div class="t" style="left:80.3px;top:346.5px;transform:scaleX(1.2489)">movement along the track and</div>
<div class="t" style="left:80.85px;top:377.7px;transform:scaleX(1.2453)">support higher</div>
<div class="t" style="left:80.43px;top:408.9px;transform:scaleX(1.1843)">load capacities.</div>
<div class="t" style="left:540.81px;top:762.6px;transform:scaleX(1.1893)">These 4 wheel rollers feature</div>
<div class="t" style="left:531.74px;top:793.8px;transform:scaleX(1.2609)">a mounting plate to make the</div>
<div class="t" style="left:533.17px;top:825px;transform:scaleX(1.2145)">process of attaching the roller</div>
<div class="t" style="left:531.17px;top:856.2px;transform:scaleX(1.2339)">to the frame of your door/gate</div>
<div class="t" style="left:675.61px;top:887.4px;transform:scaleX(1.1877)">simple.</div>
</body></html>
